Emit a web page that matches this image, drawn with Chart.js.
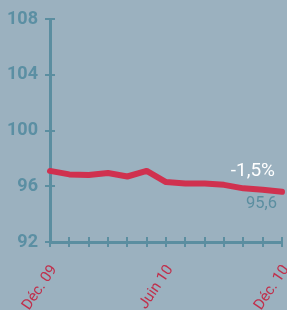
<!DOCTYPE html>
<html><head><meta charset="utf-8">
<script src="https://cdn.jsdelivr.net/npm/chart.js@4"></script>
<style>html,body{margin:0;padding:0;background:#9bb1bf;}#wrap{width:287px;height:310px;}</style>
</head><body><div id="wrap"><canvas id="c" width="287" height="310"></canvas></div>
<script>
const months = ['Déc. 09','Janv. 10','Févr. 10','Mars 10','Avr. 10','Mai 10','Juin 10','Juil. 10','Août 10','Sept. 10','Oct. 10','Nov. 10','Déc. 10'];
const shownLabels = ['Déc. 09','Juin 10','Déc. 10'];
const values = [97.1, 96.85, 96.8, 96.95, 96.7, 97.1, 96.3, 96.2, 96.2, 96.1, 95.85, 95.75, 95.6];
const yTicks = [92, 96, 100, 104, 108];
const changeLabel = '-1,5%';
const lastLabel = '95,6';

const AXIS = '#5b8ea0';
const RED = '#d0314f';

const crossTicks = {
  id: 'crossTicks',
  afterDraw(chart) {
    const ctx = chart.ctx, x = chart.scales.x, y = chart.scales.y;
    ctx.save();
    ctx.strokeStyle = AXIS; ctx.lineWidth = 2;
    const x0 = x.left, y0 = y.bottom;
    yTicks.forEach(v => { const py = Math.round(y.getPixelForValue(v)); ctx.beginPath(); ctx.moveTo(x0, py); ctx.lineTo(x0 + 5, py); ctx.stroke(); });
    months.forEach((m, i) => { const px = Math.round(x.getPixelForValue(i)); ctx.beginPath(); ctx.moveTo(px, y0); ctx.lineTo(px, y0 - 5); ctx.stroke(); });
    const li = values.length - 1;
    const lx = x.getPixelForValue(li), ly = y.getPixelForValue(values[li]);
    ctx.textAlign = 'right'; ctx.textBaseline = 'middle';
    ctx.fillStyle = '#ffffff'; ctx.font = '19px Roboto';
    ctx.fillText(changeLabel, lx - 7, ly - 21);
    ctx.fillStyle = AXIS; ctx.font = '16.5px Roboto';
    ctx.fillText(lastLabel, lx - 5, ly + 12);
    ctx.restore();
  }
};

new Chart(document.getElementById('c'), {
  type: 'line',
  data: { labels: months, datasets: [{ data: values, borderColor: RED, borderWidth: 6, pointRadius: 0, tension: 0, borderCapStyle: 'round', borderJoinStyle: 'round', clip: false }] },
  options: {
    responsive: false, animation: false,
    layout: { padding: { top: 19, right: 5, left: 0, bottom: 0 } },
    plugins: { legend: { display: false }, tooltip: { enabled: false } },
    scales: {
      x: {
        type: 'category', offset: false,
        afterFit(s) { s.height = 68; s.paddingLeft = 0; s.paddingRight = 0; },
        grid: { display: true, drawOnChartArea: false, color: AXIS, lineWidth: 2, tickLength: 5 },
        border: { display: true, color: AXIS, width: 3 },
        ticks: { autoSkip: false, maxRotation: 56, minRotation: 56, padding: 15, labelOffset: 4, color: '#c0304c', font: { family: 'Roboto', size: 15 },
          callback(v, i) { return shownLabels.includes(months[i]) ? months[i] : ''; } }
      },
      y: {
        min: 92, max: 108,
        afterFit(s) { s.width = 50; s.paddingTop = 0; s.paddingBottom = 0; },
        afterBuildTicks(s) { s.ticks = yTicks.map(v => ({ value: v })); },
        grid: { display: true, drawOnChartArea: false, color: AXIS, lineWidth: 2, tickLength: 5 },
        border: { display: true, color: AXIS, width: 3 },
        ticks: { padding: 7, color: '#5b8fa3', font: { family: 'Roboto', size: 18, weight: 'bold' } }
      }
    }
  },
  plugins: [crossTicks]
});
</script></body></html>
